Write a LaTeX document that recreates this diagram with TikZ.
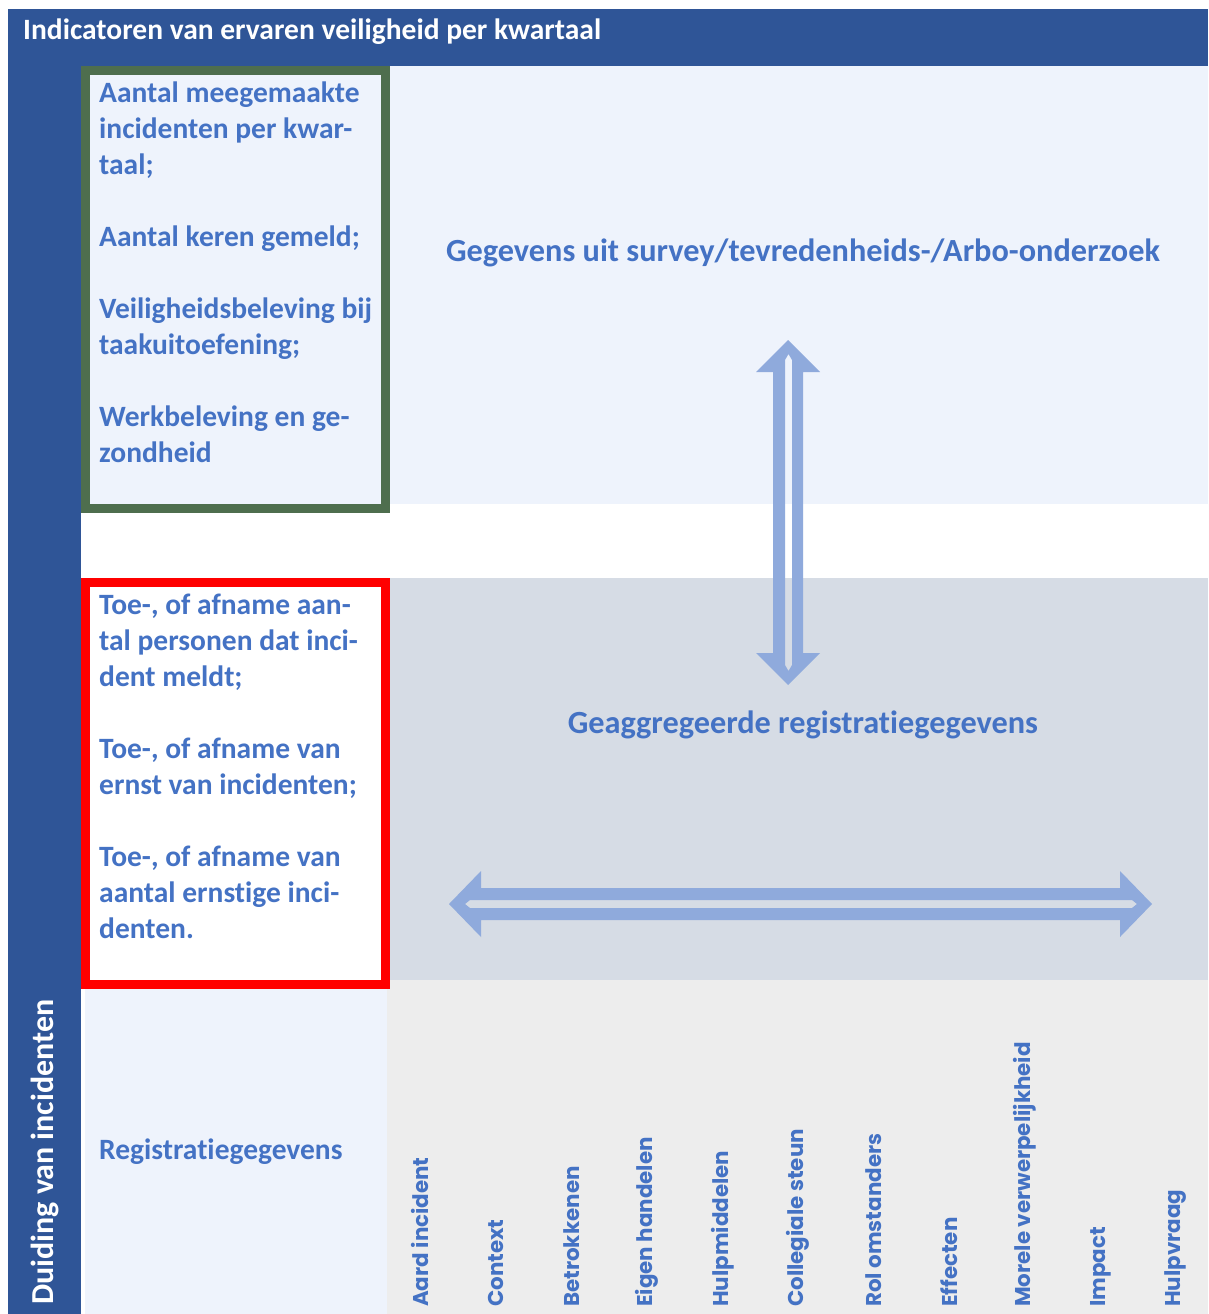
\documentclass[tikz,border=0pt]{standalone}
\usepackage{fontspec}
\setmainfont{Carlito}[Ligatures={NoCommon}]
\newfontfamily\popfont{Poppins}
\definecolor{hdr}{HTML}{2F5597}
\definecolor{txtblue}{HTML}{4472C4}
\definecolor{arrowblue}{HTML}{8FAADC}
\definecolor{lightbg}{HTML}{EEF3FC}
\definecolor{graybg}{HTML}{D6DCE5}
\definecolor{lgray}{HTML}{EDEDED}
\definecolor{boxgreen}{HTML}{4E6E4E}
\tikzset{
  bodytext/.style={text=txtblue, font=\fontsize{29.5}{36}\selectfont\bfseries, inner sep=0pt},
  centertext/.style={bodytext, font=\fontsize{32.3}{38}\selectfont\bfseries},
  listtext/.style={bodytext, align=left, anchor=north west},
  collabel/.style={text=txtblue, font=\popfont\fontsize{21.4}{24}\selectfont\bfseries, rotate=90, anchor=west, inner sep=0pt},
  bigarrow/.style={fill=arrowblue, even odd rule}
}
\begin{document}
\begin{tikzpicture}[x=1pt,y=-1pt]
\useasboundingbox (0,0) rectangle (1208,1314);
% backgrounds
\fill[white] (0,0) rectangle (1208,1314);
\fill[hdr] (8,9) rectangle (1208,66);
\fill[hdr] (8,66) rectangle (81,1314);
\fill[lightbg] (390,66) rectangle (1208,504);
\fill[graybg] (390,578) rectangle (1208,980);
\fill[lightbg] (85,989) rectangle (387,1314);
\fill[lgray] (387,980) rectangle (1208,1314);
% boxes
\draw[boxgreen, line width=9pt, fill=lightbg] (85.5,70.5) rectangle (385.5,508.5);
\draw[red, line width=9pt, fill=white] (85.5,582.5) rectangle (385.5,984.5);
% header
\node[font=\fontsize{29.5}{32}\selectfont\bfseries, text=white, anchor=west, inner sep=0pt] (title) at (23,32) {Indicatoren van ervaren veiligheid per kwartaal};
\node[font=\fontsize{32}{36}\selectfont\bfseries, text=white, rotate=90, anchor=west, inner sep=0pt] (duiding) at (45,1305) {Duiding van incidenten};
% green box text
\node[listtext] (green) at (99,82) {Aantal meegemaakte\\incidenten per kwar-\\taal;\\[36pt]Aantal keren gemeld;\\[36pt]Veiligheidsbeleving bij\\taakuitoefening;\\[36pt]Werkbeleving en ge-\\zondheid};
% red box text
\node[listtext] (redt) at (99,594) {Toe-, of afname aan-\\tal personen dat inci-\\dent meldt;\\[36pt]Toe-, of afname van\\ernst van incidenten;\\[36pt]Toe-, of afname van\\aantal ernstige inci-\\denten.};
% center texts
\node[centertext] (survey) at (803,253) {Gegevens uit survey/tevredenheids-/Arbo-onderzoek};
\node[centertext] (aggr) at (803,725) {Geaggregeerde registratiegegevens};
\node[bodytext, anchor=west] (reg) at (99,1152) {Registratiegegevens};
% column labels
\foreach \i/\t in {0/Aard incident,1/Context,2/Betrokkenen,3/Eigen handelen,4/Hulpmiddelen,5/Collegiale steun,6/Rol omstanders,7/Effecten,8/Morele verwerpelijkheid,9/Impact,10/Hulpvraag}{
  \node[collabel] (c\i) at ({420+75.6*\i},1307) {\t};
}
% vertical double arrow
\fill[bigarrow] (788,340) -- (820,372) -- (803,372) -- (803,653) -- (820,653) -- (788,685) -- (756,653) -- (773,653) -- (773,372) -- (756,372) -- cycle
  (785,360) -- (788.5,354) -- (792,360) -- (792,665) -- (788.5,671) -- (785,665) -- cycle;
% horizontal double arrow
\fill[bigarrow] (449,904) -- (481,871) -- (481,888) -- (1120,888) -- (1120,871) -- (1152,904) -- (1120,937) -- (1120,920) -- (481,920) -- (481,937) -- cycle
  (465,904) -- (470,900) -- (1132,900) -- (1137,904) -- (1132,908) -- (470,908) -- cycle;
\end{tikzpicture}
\end{document}
